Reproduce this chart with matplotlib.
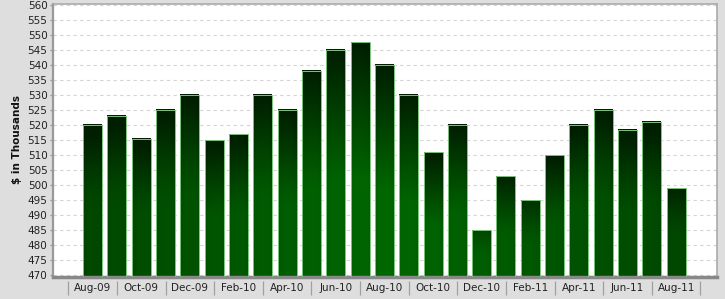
import numpy as np
import matplotlib
matplotlib.use('Agg')
import matplotlib.pyplot as plt

# monthly values, $ in thousands
months = ['Aug-09', 'Sep-09', 'Oct-09', 'Nov-09', 'Dec-09', 'Jan-10', 'Feb-10',
          'Mar-10', 'Apr-10', 'May-10', 'Jun-10', 'Jul-10', 'Aug-10', 'Sep-10',
          'Oct-10', 'Nov-10', 'Dec-10', 'Jan-11', 'Feb-11', 'Mar-11', 'Apr-11',
          'May-11', 'Jun-11', 'Jul-11', 'Aug-11']
values = [520, 523, 515.5, 525, 530, 515, 517, 530, 525, 538, 545, 547.5, 540,
          530, 511, 520, 485, 503, 495, 510, 520, 525, 518.5, 521, 499]
y_ticks = np.arange(470, 561, 5)
y_label = '$ in Thousands'

BG = '#dedede'
fig = plt.figure(figsize=(7.25, 2.99), dpi=100, facecolor=BG)
ax = fig.add_axes([53 / 725, 1 - 277 / 299, (717 - 53) / 725, (277 - 4) / 299])
ax.set_facecolor('white')

x = np.arange(len(values))
x0, x1 = -1.63, len(values) + 0.68
y0, y1 = 469.5, 560.2
w = 0.78
px_per_unit = 273 / (y1 - y0)
mid = (len(values) - 1) / 2

bars = ax.bar(x, values, width=w, facecolor='none',
              edgecolor='#7cc47c', lw=0.7, zorder=3)

# green gradient per bar: dark at the top, brighter lower down,
# and a bit darker towards the left/right ends of the chart
bright = np.array([0, 104, 0]) / 255
dark = np.array([0, 30, 0]) / 255
for xc, v in zip(x, values):
    gx = np.linspace(xc - w / 2, xc + w / 2, 30)
    gy = np.linspace(y0, v, 150)
    GX, GY = np.meshgrid(gx, gy)
    hpx = (v - y0) * px_per_unit
    depth = (v - GY) * px_per_unit
    vert = min(1, hpx / 110) * np.clip(1 - depth / (0.6 * hpx), 0, 1)
    hx = 0.45 * (GX - mid) / 12.5
    edge = 0.07 * ((GX - xc) / (w / 2)) ** 4
    t = np.clip(np.sqrt(vert ** 2 + hx ** 2) + edge, 0, 1)
    rgb = bright * (1 - t)[..., None] + dark * t[..., None]
    ax.imshow(rgb, extent=[xc - w / 2, xc + w / 2, y0, v], origin='lower',
              aspect='auto', interpolation='bilinear', zorder=2)

ax.set_xlim(x0, x1)
ax.set_ylim(y0, y1)
ax.set_yticks(y_ticks)
ax.set_axisbelow(True)
ax.yaxis.grid(True, color='#d4d4d4', ls=(0, (3, 3)), lw=0.8)

ax.set_xticks(x[::2])
ax.set_xticklabels(months[::2])
ax.tick_params(axis='x', length=0, pad=4.5, labelsize=7.5, labelcolor='#222222')
ax.tick_params(axis='y', length=2.5, width=1, color='#999999', pad=1.5,
               labelsize=7.5, labelcolor='#222222')

# category separators below the axis
sep = np.arange(-1, len(values) + 1, 2)
ax.vlines(sep, -0.016, -0.066, transform=ax.get_xaxis_transform(),
          color='#a0a0a0', lw=0.9, clip_on=False)

for side, c, lw in [('left', '#999999', 1.6), ('top', '#aaaaaa', 1.2),
                    ('right', '#aaaaaa', 1.2), ('bottom', '#888888', 2.5)]:
    ax.spines[side].set_color(c)
    ax.spines[side].set_linewidth(lw)

fig.text(17 / 725, 1 - 140 / 299, y_label, rotation=90, fontsize=7.5,
         fontweight='bold', ha='center', va='center', color='#111111')

fig.savefig('out.png', dpi=100, facecolor=BG)
